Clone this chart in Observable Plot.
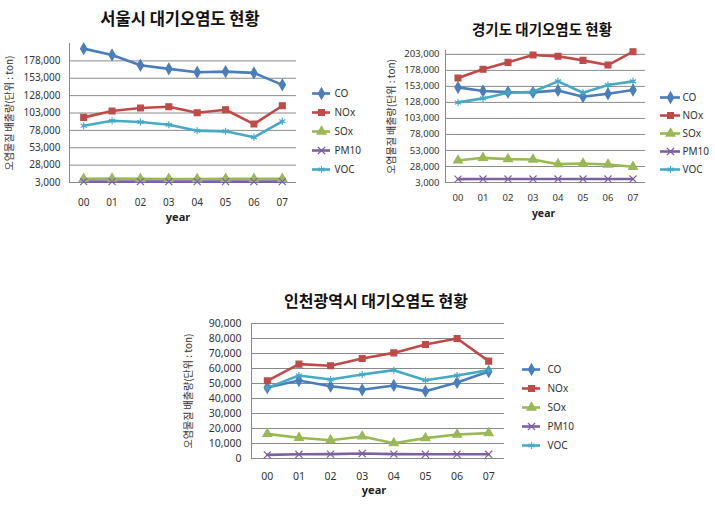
<!DOCTYPE html>
<html><head><meta charset="utf-8">
<script src="https://cdn.jsdelivr.net/npm/d3@7"></script>
<script src="https://cdn.jsdelivr.net/npm/@observablehq/plot@0.6"></script>
<style>
body{margin:0;background:#fff;}
#root{position:relative;width:715px;height:506px;overflow:hidden;font-family:"Noto Sans CJK KR","Noto Sans",sans-serif;background:#fff;}
.abs{position:absolute;}
.title{position:absolute;font-weight:bold;white-space:nowrap;transform:translate(-50%,-50%);color:#111;font-family:"Noto Sans CJK KR",sans-serif;}
</style></head><body><div id="root"></div>
<script>
// ---------- data ----------
const years = ["00","01","02","03","04","05","06","07"];
const series = ["CO","NOx","SOx","PM10","VOC"];
const colors = ["#4A7EBB","#BE4B48","#98B954","#7D60A0","#46AAC5"];
const symbols = ["diamond","square","triangle","times","asterisk"];

const seoulTitle = "서울시 대기오염도 현황";
const seoulCO   = [195600,186500,171700,166500,161700,162600,160700,143500];
const seoulNOx  = [96700,105800,110100,112000,103400,107700,87100,113400];
const seoulSOx  = [8300,8600,8200,8100,8000,8400,8200,8300];
const seoulPM10 = [4200,4300,4200,4300,4200,4200,4200,4200];
const seoulVOC  = [84700,91900,90000,86200,77600,76600,68000,91000];
const seoulTicks = [3000,28000,53000,78000,103000,128000,153000,178000];

const ggTitle = "경기도 대기오염도 현황";
const ggCO   = [151400,145700,144100,143600,146750,136900,141500,147300];
const ggNOx  = [166000,179600,190500,202000,199900,193600,186300,207200];
const ggSOx  = [37400,41500,39500,38900,31600,32700,31100,27500];
const ggPM10 = [8200,8400,8400,8400,8400,8400,8400,8400];
const ggVOC  = [128000,134250,143100,144700,160800,143100,155100,160800];
const ggTicks = [3000,28000,53000,78000,103000,128000,153000,178000,203000];

const icTitle = "인천광역시 대기오염도 현황";
const icCO   = [47300,52000,48200,45800,48700,44900,50700,58000];
const icNOx  = [51800,62900,61800,66700,70400,76000,80000,64900];
const icSOx  = [16400,13800,12200,14700,10200,13600,16000,16900];
const icPM10 = [2400,2800,2900,3300,2900,2800,2800,2800];
const icVOC  = [47100,55300,52700,56000,58900,52200,55300,58900];
const icTicks = [0,10000,20000,30000,40000,50000,60000,70000,80000,90000];

const yTitle = "오염물질 배출량(단위 : ton)";
const xTitle = "year";

// ---------- helpers ----------
const root = document.getElementById("root");
function rows(arrs){
  return series.flatMap((s,i)=>years.map((y,j)=>({xi:j, series:s, value:arrs[i][j]})));
}
function place(node, left, top){
  node.classList.add("abs");
  node.style.left = left+"px"; node.style.top = top+"px";
  root.appendChild(node);
}
function title(text, cx, cy, size){
  const d = document.createElement("div");
  d.className = "title"; d.textContent = text;
  d.style.left = cx+"px"; d.style.top = cy+"px"; d.style.fontSize = size+"px";
  root.appendChild(d);
}
function chart(o){
  const data = rows(o.arrs);
  return Plot.plot({
    width:o.width, height:o.height,
    marginLeft:o.ml, marginRight:o.mr, marginTop:o.mt, marginBottom:o.mb,
    style:{fontFamily:'"Noto Sans", sans-serif', fontSize:o.fs+"px", color:"#333", background:"transparent", overflow:"visible"},
    x:{domain:[-0.5, years.length-0.5], ticks:years.map((d,i)=>i), tickFormat:i=>years[i], tickSize:0, tickPadding:o.xpad, label:null},
    y:{domain:o.domain, ticks:o.ticks, tickFormat:d3.format(","), tickSize:0, tickPadding:o.ypad, label:null},
    color:{domain:series, range:colors},
    symbol:{domain:series, range:symbols},
    marks:[
      Plot.ruleY(o.ticks, {stroke:"#8a8a8a", strokeWidth:1}),
      Plot.ruleX([-0.5], {stroke:"#8a8a8a", strokeWidth:1}),
      Plot.line(data, {x:"xi", y:"value", z:"series", stroke:"series", strokeWidth:2.6}),
      Plot.dot(data, {x:"xi", y:"value", symbol:"series", fill:"series", stroke:"series", strokeWidth:1.2, r:3.3}),
      Plot.text([xTitle], {frameAnchor:"bottom", dy:o.yearDy, dx:o.yearDx, text:d=>d, fontWeight:"bold", fontSize:o.yfs, fill:"#222"}),
      Plot.text([yTitle], {frameAnchor:"left", dx:o.ytDx, rotate:-90, textAnchor:"middle", text:d=>d, fontSize:10, fill:"#333", fontFamily:'"Noto Sans CJK KR", sans-serif'})
    ]
  });
}
function legend(o){
  return Plot.plot({
    width:o.width, height:4*o.sp+20,
    marginLeft:0, marginRight:o.width-o.len, marginTop:10, marginBottom:10,
    style:{fontFamily:'"Noto Sans", sans-serif', fontSize:"10px", color:"#333", background:"transparent", overflow:"visible"},
    x:{domain:[0,1], axis:null},
    y:{type:"point", domain:series, padding:0, axis:null},
    color:{domain:series, range:colors},
    symbol:{domain:series, range:symbols},
    marks:[
      Plot.ruleY(series, {y:d=>d, x1:0, x2:1, stroke:d=>d, strokeWidth:2.6}),
      Plot.dot(series, {x:0.5, y:d=>d, symbol:d=>d, fill:d=>d, stroke:d=>d, strokeWidth:1.2, r:3.3}),
      Plot.text(series, {x:1, y:d=>d, text:d=>d, textAnchor:"start", dx:o.gap, fill:"#333"})
    ]
  });
}

// ---------- Seoul ----------
title(seoulTitle, 180, 18, 16.5);
place(chart({arrs:[seoulCO,seoulNOx,seoulSOx,seoulPM10,seoulVOC], ticks:seoulTicks, domain:[3000,203000],
  width:300, height:198, ml:69, mr:4, mt:13, mb:46, fs:10, xpad:16, ypad:9, yearDy:38, yearDx:-5, yfs:11, ytDx:-60}), 0, 30);
place(legend({width:50, len:18, sp:19.75, gap:4}), 312, 81);

// ---------- Gyeonggi ----------
title(ggTitle, 542, 28, 14.5);
place(chart({arrs:[ggCO,ggNOx,ggSOx,ggPM10,ggVOC], ticks:ggTicks, domain:[3000,209000],
  width:290, height:198, ml:85, mr:5, mt:20, mb:46, fs:9.5, xpad:12, ypad:6, yearDy:34, yearDx:-2, yfs:10.5, ytDx:-54}), 360, 30);
place(legend({width:50, len:20, sp:18.5, gap:2}), 660, 86);

// ---------- Incheon ----------
title(icTitle, 376, 300, 16);
place(chart({arrs:[icCO,icNOx,icSOx,icPM10,icVOC], ticks:icTicks, domain:[0,90000],
  width:338, height:193, ml:81, mr:4, mt:13, mb:45, fs:10.5, xpad:14, ypad:10, yearDy:35, yearDx:-4, yfs:11, ytDx:-63}), 170, 310);
place(legend({width:60, len:18, sp:19, gap:7}), 522, 359);
</script></body></html>
